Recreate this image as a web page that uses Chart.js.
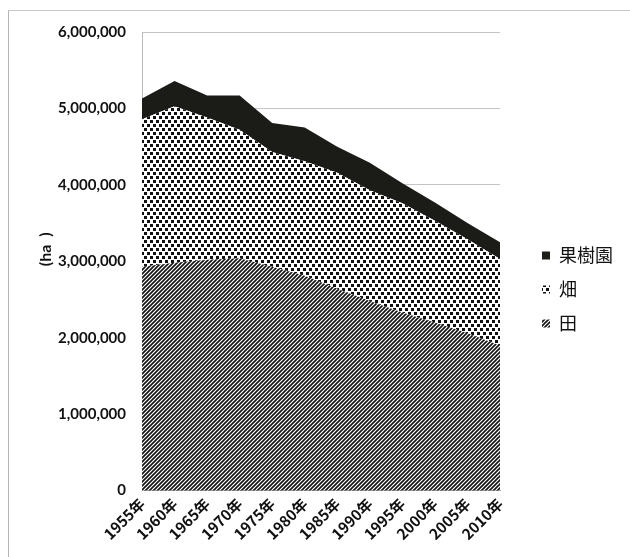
<!DOCTYPE html>
<html>
<head>
<meta charset="utf-8">
<script src="https://cdn.jsdelivr.net/npm/chart.js@4"></script>
<style>
  html, body { margin: 0; padding: 0; background: #fff; }
  #wrap { position: relative; width: 630px; height: 557px; overflow: hidden; }
  #frame { position: absolute; left: 8px; top: 10px; width: 700px; height: 700px;
           border-left: 1px solid #b5b5b5; border-top: 1px solid #c8c8c8; }
  #myChart { position: absolute; left: 0; top: 0; }
</style>
</head>
<body>
<div id="wrap">
  <div id="frame"></div>
  <canvas id="myChart" width="630" height="557"></canvas>
</div>
<script>
// 耕地面積の推移 (ha)
var years = ['1955年', '1960年', '1965年', '1970年', '1975年', '1980年',
             '1985年', '1990年', '1995年', '2000年', '2005年', '2010年'];
var ta    = [2930000, 2980000, 3020000, 3040000, 2930000, 2810000,
             2640000, 2480000, 2330000, 2200000, 2060000, 1900000];
var hata  = [1930000, 2050000, 1860000, 1680000, 1500000, 1500000,
             1520000, 1450000, 1430000, 1330000, 1230000, 1130000];
var kaju  = [270000, 330000, 290000, 450000, 380000, 440000,
             340000, 360000, 260000, 240000, 210000, 220000];
var yTicks = [0, 1000000, 2000000, 3000000, 4000000, 5000000, 6000000];

// ---------------- fill patterns ----------------
function makePattern(w, h, draw) {
  var c = document.createElement('canvas');
  c.width = w; c.height = h;
  var g = c.getContext('2d');
  g.fillStyle = '#fff';
  g.fillRect(0, 0, w, h);
  draw(g);
  return g.createPattern(c, 'repeat');
}

// 田 : 斜線
var hatch = makePattern(4, 4, function (g) {
  g.strokeStyle = '#111';
  g.lineWidth = 1.6;
  g.beginPath();
  g.moveTo(-1, 5); g.lineTo(5, -1);
  g.moveTo(-1, 1); g.lineTo(1, -1);
  g.moveTo(3, 5); g.lineTo(5, 3);
  g.stroke();
});

// 畑 : ドット
var dots = makePattern(6, 8, function (g) {
  g.fillStyle = '#111';
  g.fillRect(0, 0, 3, 3);
  g.fillRect(3, 4, 3, 3);
});

function drawChart() {
  const pickChart = document.getElementById('myChart');
  const data = {
    labels: years,
    datasets: [
      { label: '田', data: ta, backgroundColor: hatch, fill: 'origin' },
      { label: '畑', data: hata, backgroundColor: dots, fill: '-1' },
      { label: '果樹園', data: kaju, backgroundColor: '#1b1c17', fill: '-1' }
    ]
  };

  return new Chart(pickChart, {
    type: 'line',
    data: data,
    options: {
      responsive: false,
      animation: false,
      devicePixelRatio: 1,
      layout: { padding: { left: 34, top: 32, right: 7, bottom: 10 } },
      elements: {
        point: { radius: 0, hoverRadius: 0 },
        line: { borderWidth: 0, tension: 0 }
      },
      plugins: {
        tooltip: { enabled: false },
        legend: {
          position: 'right',
          reverse: true,
          labels: {
            boxWidth: 8,
            boxHeight: 8,
            padding: 16,
            color: '#111',
            font: { family: "'Noto Sans CJK JP'", size: 18 }
          }
        }
      },
      scales: {
        x: {
          grid: { display: false, drawTicks: false },
          border: { color: '#9a9a9a' },
          ticks: {
            minRotation: 45,
            maxRotation: 45,
            padding: 4,
            color: '#111',
            font: { family: "'Noto Sans CJK JP'", size: 15, weight: 'bold' }
          }
        },
        y: {
          stacked: true,
          min: 0,
          max: 6000000,
          afterBuildTicks: function (scale) {
            scale.ticks = yTicks.map(function (v) { return { value: v }; });
          },
          // 縦軸の幅を固定（自動だと上限で詰まる）
          afterFit: function (scale) { scale.width = 108; },
          grid: { color: '#c4c4c4', drawTicks: false },
          border: { color: '#bdbdbd' },
          ticks: {
            padding: 16,
            color: '#111',
            font: { family: 'Lato', size: 15, weight: 'bold' },
            callback: function (v) { return Number(v).toLocaleString('en-US'); }
          },
          title: {
            display: true,
            // 先頭の全角スペースで少し上に寄せる
            text: '\u2003\u2003(ha  )',
            color: '#111',
            padding: { top: 2, bottom: 4 },
            font: { family: 'Lato', size: 16, weight: 'bold' }
          }
        },
        // 凡例との間隔用
        gap: {
          position: 'right',
          grid: { display: false, drawTicks: false },
          border: { display: false },
          ticks: { display: false },
          afterFit: function (scale) { scale.width = 26; }
        }
      }
    }
  });
}

// フォントを読み込んでから描く
Promise.all([
  document.fonts.load("bold 15px Lato"),
  document.fonts.load("bold 15px 'Noto Sans CJK JP'"),
  document.fonts.load("18px 'Noto Sans CJK JP'")
]).then(drawChart, drawChart);
</script>
</body>
</html>
